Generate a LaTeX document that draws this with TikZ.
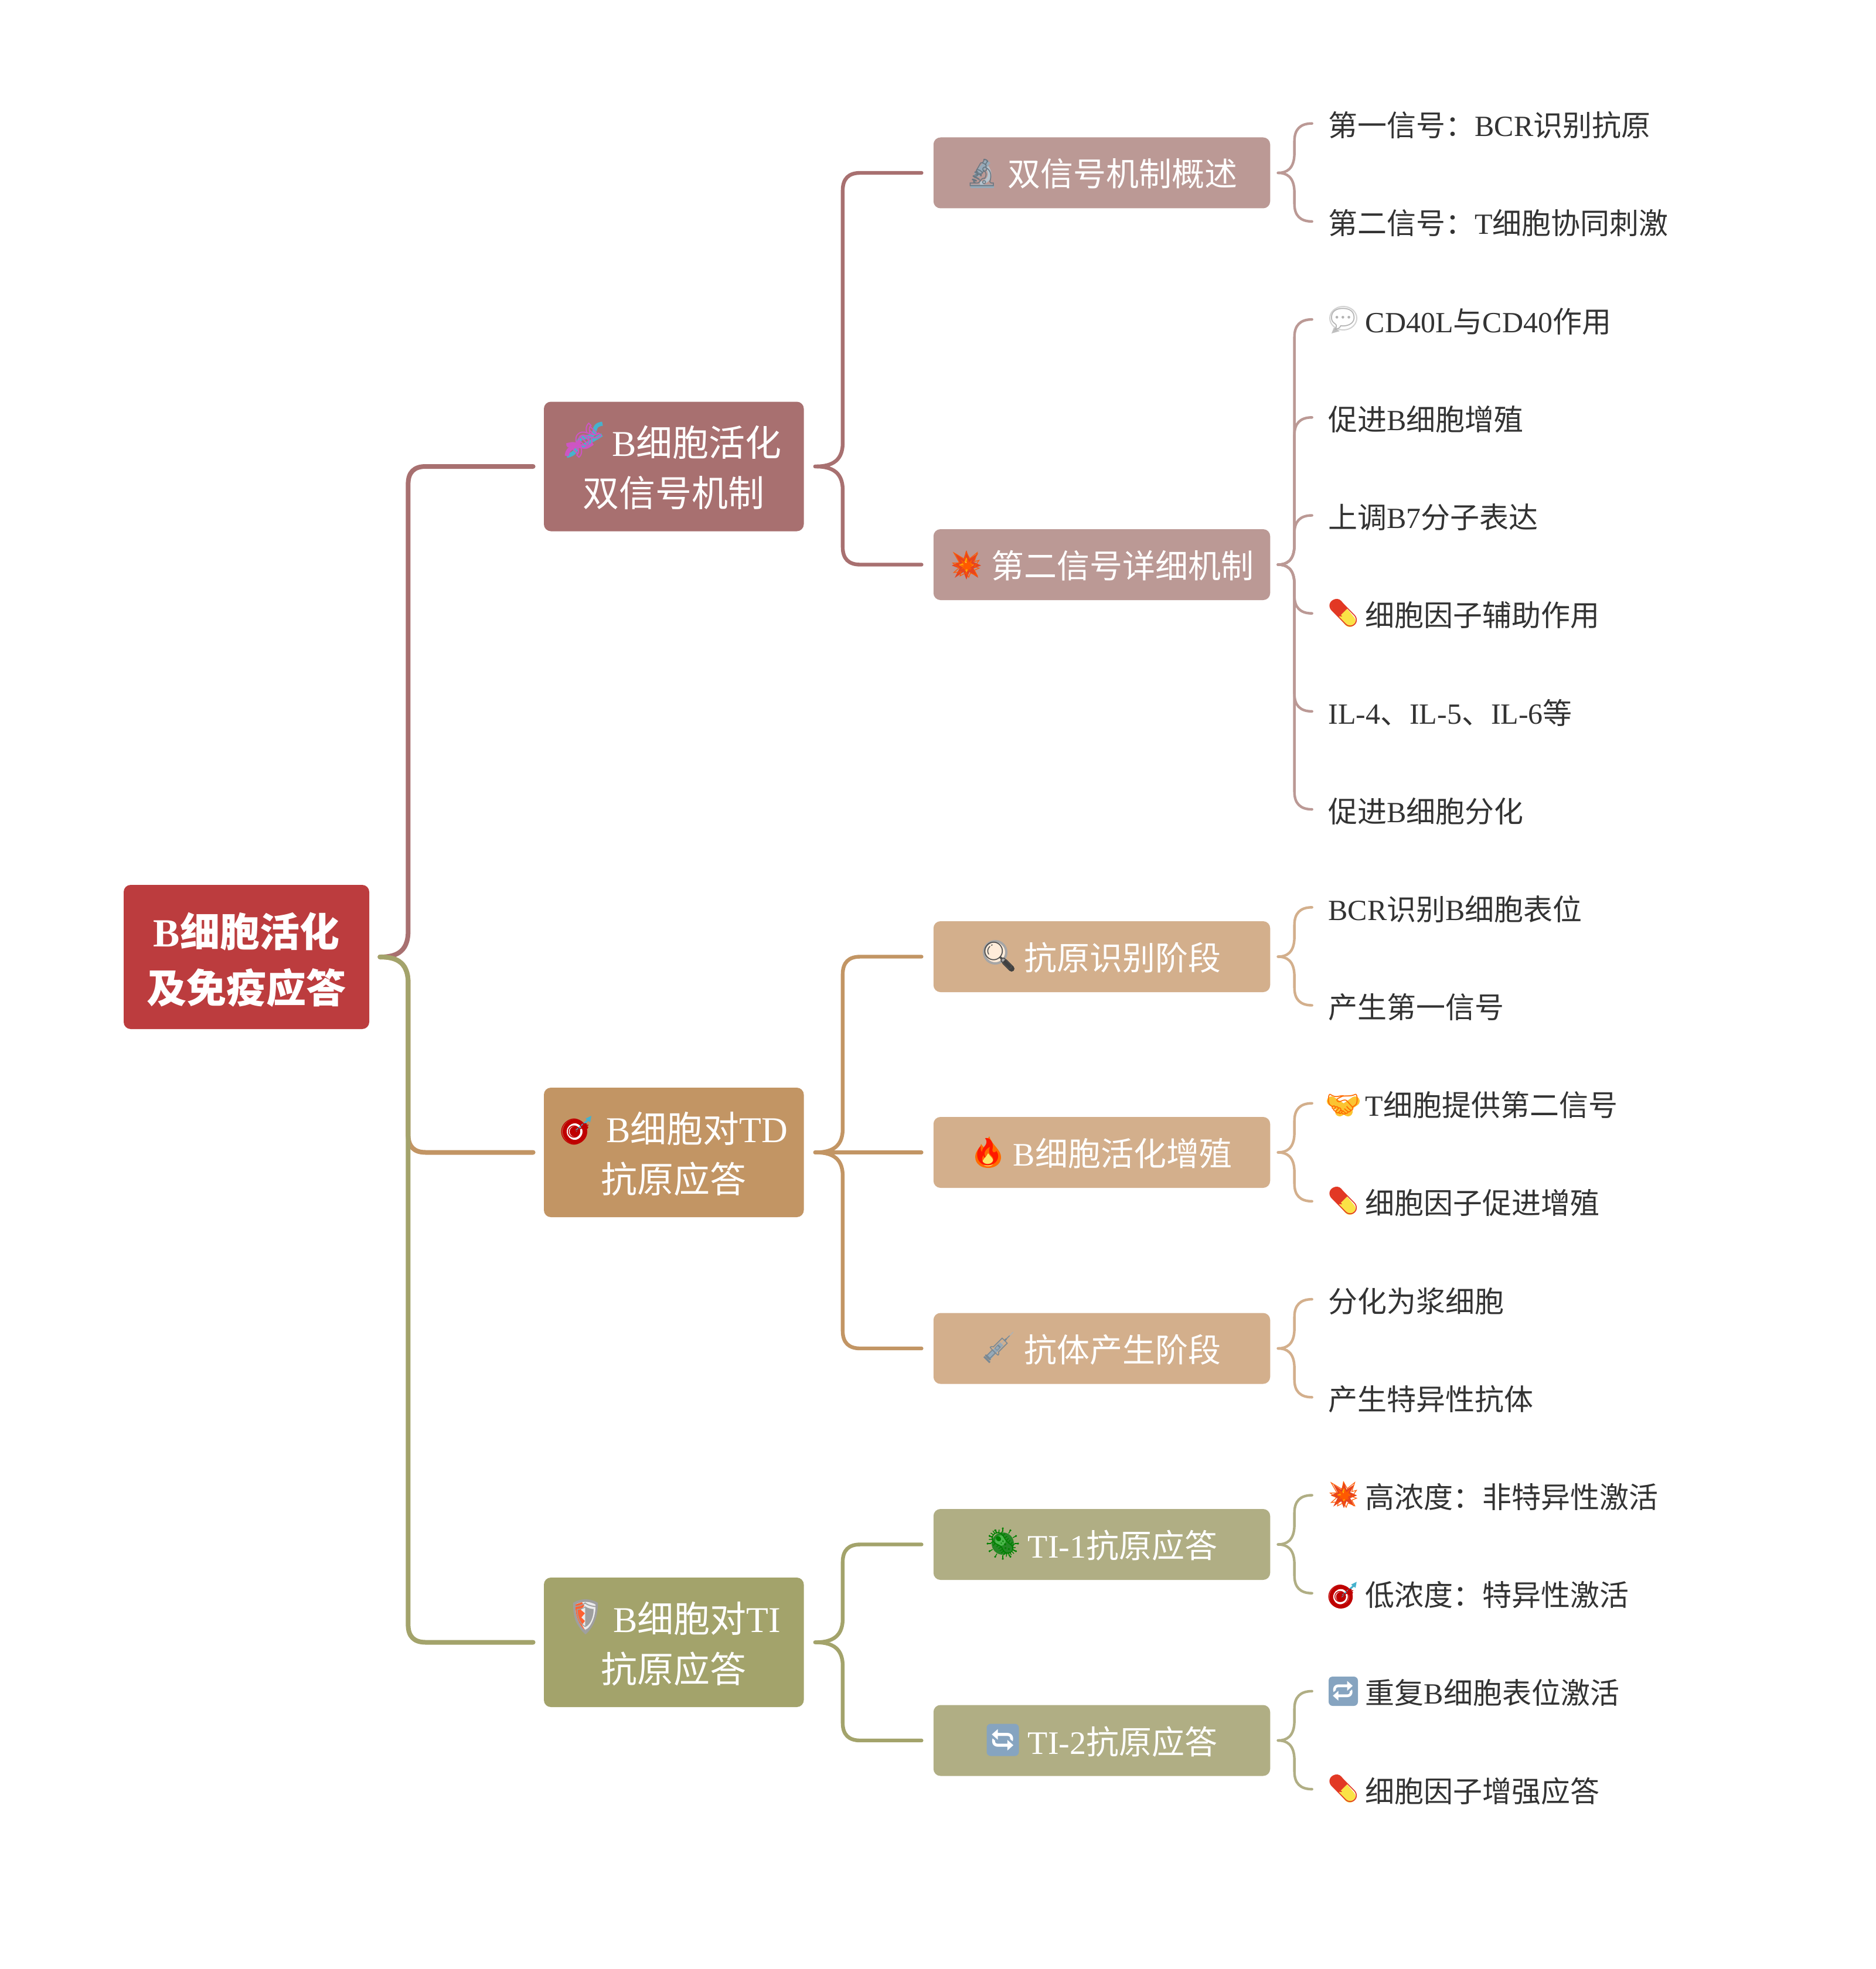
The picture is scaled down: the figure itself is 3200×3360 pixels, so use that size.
\documentclass[tikz,border=0pt]{standalone}
\usepackage{fontspec}
\setmainfont{Liberation Serif}
\newfontfamily\cjk{Noto Sans CJK SC}
\newfontfamily\emo{Noto Emoji}
\usetikzlibrary{calc}
\definecolor{rootc}{RGB}{188,60,62}
\definecolor{ca}{RGB}{168,112,112}
\definecolor{cb}{RGB}{194,149,100}
\definecolor{cc}{RGB}{163,163,107}
\definecolor{da}{RGB}{187,153,149}
\definecolor{db}{RGB}{211,175,140}
\definecolor{dc}{RGB}{176,174,132}
\definecolor{leafc}{RGB}{51,51,51}
\definecolor{pillr}{RGB}{226,56,36}
\definecolor{pilly}{RGB}{250,226,70}
\definecolor{loopc}{RGB}{134,164,192}
\definecolor{tealc}{RGB}{70,178,205}
\definecolor{magc}{RGB}{205,85,195}
\definecolor{steel}{RGB}{150,170,185}
\newcommand{\C}[1]{{\cjk #1}}
\newcommand{\Sp}{\hspace{1.27em}}
\tikzset{
  rootbox/.style={rectangle,rounded corners=6pt,fill=rootc,text=white,inner sep=0pt,minimum width=209.5pt,minimum height=123pt,align=center,font=\fontsize{34pt}{48pt}\selectfont\bfseries,text height=78pt,text depth=0pt},
  onebox/.style={rectangle,rounded corners=6pt,text=white,inner sep=0pt,minimum width=221.75pt,minimum height=110.5pt,align=center,font=\fontsize{31pt}{43pt}\selectfont,text height=68.5pt,text depth=0pt},
  twobox/.style={rectangle,rounded corners=6pt,text=white,inner sep=0pt,minimum width=287.25pt,minimum height=60.5pt,align=center,font=\fontsize{28pt}{34pt}\selectfont,text height=23pt,text depth=0pt},
  leaf/.style={anchor=west,inner sep=0pt,text=leafc,font=\fontsize{25pt}{30pt}\selectfont,text height=22pt,text depth=0pt},
  link/.style={line cap=round,line join=round,fill=none},
  emoji/.style={inner sep=0pt,font=\emo\fontsize{23pt}{23pt}\selectfont},
  pics/pillp/.style={code={
    \draw[pilly,line width=10pt,line cap=round] (1,2)--(11,14);
    \draw[pillr,line width=10pt,line cap=round] (-11,-14)--(-3,-4);
    \fill[pilly] (-6,1) -- (6,-8) -- (10,0) -- (0,8) -- cycle;
  }},
  pics/boomp/.style={code={
    \fill[pillr!85!orange] (0,-25)--(5,-10)--(20,-20)--(12,-5)--(25,1)--(12,6)--(20,22)--(5,12)--(0,25)--(-5,12)--(-20,22)--(-12,6)--(-25,1)--(-12,-5)--(-20,-20)--(-5,-10)--cycle;
    \fill[orange!70!yellow] (0,-13)--(4,-4)--(13,0)--(4,5)--(0,13)--(-4,5)--(-13,0)--(-4,-4)--cycle;
    \fill[pilly!60!white] (0,0) circle (5);
  }},
  pics/flamep/.style={code={
    \fill[orange!85!red] (2,-27) .. controls (6,-12) and (23,-4) .. (22,10) .. controls (21,22) and (10,27) .. (0,27) .. controls (-12,27) and (-22,20) .. (-22,8) .. controls (-22,-2) and (-14,-6) .. (-12,-14) .. controls (-8,-8) and (-6,-6) .. (-4,-6) .. controls (-4,-14) and (-2,-22) .. (2,-27) -- cycle;
    \fill[pilly!80!white] (0,2) .. controls (4,8) and (11,12) .. (9,19) .. controls (7,26) and (-7,26) .. (-9,19) .. controls (-11,12) and (-3,9) .. (0,2) -- cycle;
  }},
  pics/targetp/.style={code={
    \fill[red!75!black] (-4,3) circle (21);
    \fill[white] (-4,3) circle (14);
    \fill[red!75!black] (-4,3) circle (9);
    \draw[tealc,line width=1.5pt] (-4,3)--(20,-18);
    \fill[tealc] (14,-19)--(24,-24)--(22,-13)--cycle;
  }},
  pics/dnap/.style={code={
    \draw[tealc,line width=3.5pt] (31,-29) .. controls (8,-26) and (28,-8) .. (2,-6) .. controls (-20,-4) and (-2,20) .. (-30,26);
    \draw[magc,line width=3.5pt] (-30,26) .. controls (-28,8) and (-14,14) .. (-8,0);
    \draw[magc,line width=3.5pt] (-30,8) .. controls (-16,2) and (-2,18) .. (14,4);
    \draw[tealc,line width=3pt] (-4,10) -- (30,-10);
  }},
  pics/shieldp/.style={code={
    \fill[gray!75] (-21,-24) .. controls (-8,-32) and (8,-32) .. (21,-24) .. controls (22,0) and (12,20) .. (0,30) .. controls (-12,20) and (-22,0) .. (-21,-24) -- cycle;
    \fill[gray!15] (-17,-21) .. controls (-6,-27) and (6,-27) .. (17,-21) .. controls (18,0) and (9,16) .. (0,24) .. controls (-9,16) and (-18,0) .. (-17,-21) -- cycle;
    \fill[red!55!orange!80] (-17,-21) -- (-6,-25) -- (-2,-19) -- (-8,-12) -- (-1,-6) -- (-7,1) -- (-1,7) -- (-6,14) -- (0,24) .. controls (-9,16) and (-18,0) .. (-17,-21) -- cycle;
  }},
  pics/microp/.style={code={
    \draw[steel,line width=5pt] (-10,4) -- (10,-20);
    \draw[steel!80!black,line width=2.5pt] (-14,8) -- (-6,-1);
    \draw[steel!70!white,line width=3pt] (8,-10) .. controls (18,4) and (10,16) .. (-4,18);
    \fill[steel] (-20,20) rectangle (20,26);
  }},
  pics/lensp/.style={code={
    \draw[black!75,line width=5pt,line cap=round] (10,10) -- (22,22);
    \draw[gray!70,fill=white!85!orange,line width=2pt] (-6,-6) circle (19);
  }},
  pics/syrp/.style={code={
    \draw[steel,line width=4pt] (-16,16) -- (6,-8);
    \draw[gray!60,line width=.8pt] (6,-8) -- (26,-28);
    \draw[steel!80!black,line width=1.5pt] (-24,14) -- (-14,24);
  }},
  pics/germp/.style={code={
    \fill[green!45!black!85] (0,0) circle (19);
    \fill[green!60!black!70] (-4,-5) circle (9);
    \foreach \a in {0,30,...,330} {\draw[green!50!black,line width=.7pt] (\a:20) -- (\a:25);\fill[green!50!black] (\a:26) circle (1.8);}
  }},
  pics/loopp/.style={code={
    \fill[loopc,rounded corners=3.5pt] (-25,-25) rectangle (25,25);
    \fill[white,rounded corners=3pt] (-20,-20) rectangle (20,20);
  }},
  pics/bubblep/.style={code={
    \fill[gray!50] (-16,14)--(-20,24)--(-6,20)--cycle;
    \draw[gray!35,fill=white,line width=1pt] (0,-2) ellipse (23 and 20);
  }},
  pics/shakep/.style={code={
    \draw[pilly!70!orange,line width=8pt,line cap=round] (-20,-6) -- (8,12);
    \draw[pilly!70!orange,line width=8pt,line cap=round] (20,-6) -- (-6,12);
  }},
}
% colour, width, from, to, sign, start gap, bend offset, end gap, R1
\newcommand{\conn}[9]{%
  \draw[link,draw=#1,line width=#2] let \p1=(#3.east),\p2=(#4.west) in
    (\x1+#6,\y1) .. controls (\x1+#6+0.5*#7-0.5*#6,\y1) and (\x1+#7,\y1+#5*3pt) .. (\x1+#7,\y1+#5*#9)
    -- (\x1+#7,\y2-#5*15pt) .. controls (\x1+#7,\y2-#5*5pt) and (\x1+#7+5pt,\y2) .. (\x1+#7+15pt,\y2)
    -- (\x2-#8,\y2);}
\begin{document}
\begin{tikzpicture}[x=0.5pt,y=-0.5pt]
\useasboundingbox (0,0) rectangle (3200,3360);
\fill[white] (0,0) rectangle (3200,3360);
% nodes
\node[rootbox] (root) at (420.5,1633) {B\C{\bfseries 细胞活化}\\\C{\bfseries 及免疫应答}};
\node[onebox,fill=ca] (a) at (1149.75,796) {\Sp B\C{细胞活化}\\\C{双信号机制}};
\node[onebox,fill=cb] (b) at (1149.75,1966.5) {\Sp B\C{细胞对}TD\\\C{抗原应答}};
\node[onebox,fill=cc] (c) at (1149.75,2802.5) {\Sp B\C{细胞对}TI\\\C{抗原应答}};
\node[twobox,fill=da] (a1) at (1880,295) {\Sp\C{双信号机制概述}};
\node[twobox,fill=da] (a2) at (1880,963.5) {\Sp\C{第二信号详细机制}};
\node[twobox,fill=db] (b1) at (1880,1632.5) {\Sp\C{抗原识别阶段}};
\node[twobox,fill=db] (b2) at (1880,1966.5) {\Sp B\C{细胞活化增殖}};
\node[twobox,fill=db] (b3) at (1880,2301) {\Sp\C{抗体产生阶段}};
\node[twobox,fill=dc] (c1) at (1880,2635.5) {\Sp TI-1\C{抗原应答}};
\node[twobox,fill=dc] (c2) at (1880,2970) {\Sp TI-2\C{抗原应答}};
\node[leaf] (l0) at (2266,210.7) {\C{第一信号：}BCR\C{识别抗原}};
\node[leaf] (l1) at (2266,377.9) {\C{第二信号：}T\C{细胞协同刺激}};
\node[leaf] (l2) at (2266,545.1) {\Sp CD40L\C{与}CD40\C{作用}};
\node[leaf] (l3) at (2266,712.3) {\C{促进}B\C{细胞增殖}};
\node[leaf] (l4) at (2266,879.5) {\C{上调}B7\C{分子表达}};
\node[leaf] (l5) at (2266,1046.7) {\Sp\C{细胞因子辅助作用}};
\node[leaf] (l6) at (2266,1213.9) {IL-4\C{、}IL-5\C{、}IL-6\C{等}};
\node[leaf] (l7) at (2266,1381.1) {\C{促进}B\C{细胞分化}};
\node[leaf] (l8) at (2266,1548.3) {BCR\C{识别}B\C{细胞表位}};
\node[leaf] (l9) at (2266,1715.5) {\C{产生第一信号}};
\node[leaf] (l10) at (2266,1882.7) {\Sp T\C{细胞提供第二信号}};
\node[leaf] (l11) at (2266,2049.9) {\Sp\C{细胞因子促进增殖}};
\node[leaf] (l12) at (2266,2217.1) {\C{分化为浆细胞}};
\node[leaf] (l13) at (2266,2384.3) {\C{产生特异性抗体}};
\node[leaf] (l14) at (2266,2551.5) {\Sp\C{高浓度：非特异性激活}};
\node[leaf] (l15) at (2266,2718.7) {\Sp\C{低浓度：特异性激活}};
\node[leaf] (l16) at (2266,2885.9) {\Sp\C{重复}B\C{细胞表位激活}};
\node[leaf] (l17) at (2266,3053.1) {\Sp\C{细胞因子增强应答}};
% emoji: colour under-drawing, then the glyph as text
\pic at (997,752) {dnap};
\node[emoji,text=magc,font=\emo\fontsize{27pt}{27pt}\selectfont,rotate=-45] (ea) at (997,752) {🧬};
\pic at (985,1928) {targetp};
\node[emoji,text=red!75!black,font=\emo\fontsize{22pt}{22pt}\selectfont] (eb) at (981,1931) {🎯};
\pic at (999,2759) {shieldp};
\node[emoji,text=gray!75,font=\emo\fontsize{24pt}{24pt}\selectfont] (ec) at (999,2759) {🛡};
\pic at (1676,295) {microp};
\node[emoji,text=steel!70!black] (ea1) at (1676,295) {🔬};
\pic[scale=1] at (1649,964) {boomp};
\node[emoji,text=orange!70!red] (ea2) at (1649,964) {💥};
\pic at (1704,1631) {lensp};
\node[emoji,text=black!70] (eb1) at (1704,1631) {🔍};
\pic at (1686,1966) {flamep};
\node[emoji,text=red!80!orange] (eb2) at (1686,1966) {🔥};
\pic at (1703,2301) {syrp};
\node[emoji,text=steel!80!black] (eb3) at (1703,2301) {💉};
\pic at (1711,2634) {germp};
\node[emoji,text=green!50!black] (ec1) at (1711,2634) {🦠};
\pic[scale=1.1] at (1711,2969) {loopp};
\node[emoji,text=loopc,font=\emo\fontsize{25pt}{25pt}\selectfont] (ec2) at (1711,2969) {🔄};
\pic at (2292,545) {bubblep};
\node[emoji,text=gray!60] (el2) at (2292,545) {💬};
\pic at (2292,1046) {pillp};
\node[emoji,text=pillr,rotate=180] (el5) at (2292,1046) {💊};
\pic at (2292,1885) {shakep};
\node[emoji,text=orange!85!red] (el10) at (2292,1885) {🤝};
\pic at (2292,2049) {pillp};
\node[emoji,text=pillr,rotate=180] (el11) at (2292,2049) {💊};
\pic[scale=.9] at (2293,2551) {boomp};
\node[emoji,text=orange!70!red] (el14) at (2293,2551) {💥};
\pic[scale=.95] at (2292,2722) {targetp};
\node[emoji,text=red!75!black,font=\emo\fontsize{20pt}{20pt}\selectfont] (el15) at (2288,2725) {🎯};
\pic at (2292,2886) {loopp};
\node[emoji,text=loopc] (el16) at (2292,2886) {🔁};
\pic at (2292,3052) {pillp};
\node[emoji,text=pillr,rotate=180] (el17) at (2292,3052) {💊};
% root to level one
\conn{ca}{4pt}{root}{a}{1}{9pt}{33pt}{9pt}{22pt}
\conn{cb}{4pt}{root}{b}{-1}{9pt}{33pt}{9pt}{22pt}
\conn{cc}{4pt}{root}{c}{-1}{9pt}{33pt}{9pt}{22pt}
% level one to level two
\conn{ca}{3.2pt}{a}{a1}{1}{9.5pt}{33pt}{10pt}{20pt}
\conn{ca}{3.2pt}{a}{a2}{-1}{9.5pt}{33pt}{10pt}{20pt}
\conn{cb}{3.2pt}{b}{b1}{1}{9.5pt}{33pt}{10pt}{20pt}
\draw[link,draw=cb,line width=3.2pt] let \p1=(b.east),\p2=(b2.west) in (\x1+9.5pt,\y1) -- (\x2-10pt,\y1);
\conn{cb}{3.2pt}{b}{b3}{-1}{9.5pt}{33pt}{10pt}{20pt}
\conn{cc}{3.2pt}{c}{c1}{1}{9.5pt}{33pt}{10pt}{20pt}
\conn{cc}{3.2pt}{c}{c2}{-1}{9.5pt}{33pt}{10pt}{20pt}
% level two to leaves
\conn{da}{2.2pt}{a1}{l0}{1}{6.5pt}{20.5pt}{14pt}{17pt}
\conn{da}{2.2pt}{a1}{l1}{-1}{6.5pt}{20.5pt}{14pt}{17pt}
\conn{da}{2.2pt}{a2}{l2}{1}{6.5pt}{20.5pt}{14pt}{17pt}
\conn{da}{2.2pt}{a2}{l3}{1}{6.5pt}{20.5pt}{14pt}{17pt}
\conn{da}{2.2pt}{a2}{l4}{1}{6.5pt}{20.5pt}{14pt}{17pt}
\conn{da}{2.2pt}{a2}{l5}{-1}{6.5pt}{20.5pt}{14pt}{17pt}
\conn{da}{2.2pt}{a2}{l6}{-1}{6.5pt}{20.5pt}{14pt}{17pt}
\conn{da}{2.2pt}{a2}{l7}{-1}{6.5pt}{20.5pt}{14pt}{17pt}
\conn{db}{2.2pt}{b1}{l8}{1}{6.5pt}{20.5pt}{14pt}{17pt}
\conn{db}{2.2pt}{b1}{l9}{-1}{6.5pt}{20.5pt}{14pt}{17pt}
\conn{db}{2.2pt}{b2}{l10}{1}{6.5pt}{20.5pt}{14pt}{17pt}
\conn{db}{2.2pt}{b2}{l11}{-1}{6.5pt}{20.5pt}{14pt}{17pt}
\conn{db}{2.2pt}{b3}{l12}{1}{6.5pt}{20.5pt}{14pt}{17pt}
\conn{db}{2.2pt}{b3}{l13}{-1}{6.5pt}{20.5pt}{14pt}{17pt}
\conn{dc}{2.2pt}{c1}{l14}{1}{6.5pt}{20.5pt}{14pt}{17pt}
\conn{dc}{2.2pt}{c1}{l15}{-1}{6.5pt}{20.5pt}{14pt}{17pt}
\conn{dc}{2.2pt}{c2}{l16}{1}{6.5pt}{20.5pt}{14pt}{17pt}
\conn{dc}{2.2pt}{c2}{l17}{-1}{6.5pt}{20.5pt}{14pt}{17pt}
\end{tikzpicture}
\end{document}
